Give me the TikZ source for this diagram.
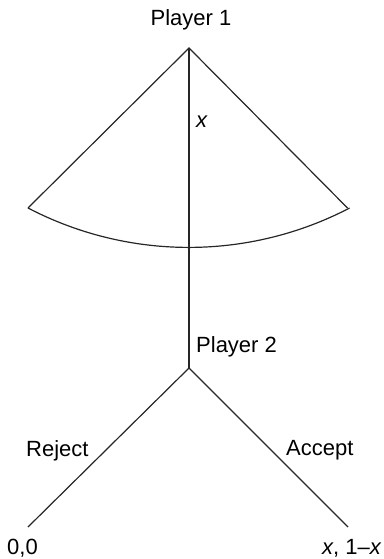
\documentclass[tikz,border=0pt]{standalone}
\usepackage{fontspec}
\setmainfont{Liberation Sans}
\begin{document}
\begin{tikzpicture}[x=1pt,y=-1pt,
  edge/.style={line width=1.2pt,draw=black!85},
  lbl/.style={inner sep=0pt,font=\fontsize{22}{24}\selectfont}]
\useasboundingbox (0,0) rectangle (383,559);
\coordinate (p1) at (189,48);
\coordinate (l) at (28,208);
\coordinate (r) at (347.5,208);
\coordinate (p2) at (189,368);
\coordinate (rej) at (28,527);
\coordinate (acc) at (348,527);
\draw[edge] (l) -- (p1) -- (r);
\draw[edge] (l) arc[start angle=117.55, end angle=62.45, radius=347.7];
\draw[edge] (p1) -- (p2);
\draw[edge] (rej) -- (p2) -- (acc);
\node[lbl,anchor=base] (t1) at (191,26) {Player 1};
\node[lbl,anchor=base west] (t2) at (196,352) {Player 2};
\node[lbl,anchor=base west] (tx) at (196,128) {\itshape x};
\node[lbl,anchor=base west] (tr) at (26,456) {Reject};
\node[lbl,anchor=base west] (ta) at (286,455) {Accept};
\node[lbl,anchor=base west] (t00) at (7,554) {0,0};
\node[lbl,anchor=base east] (tx1) at (381,554) {\itshape x\upshape, 1\textendash\itshape x};
\end{tikzpicture}
\end{document}
